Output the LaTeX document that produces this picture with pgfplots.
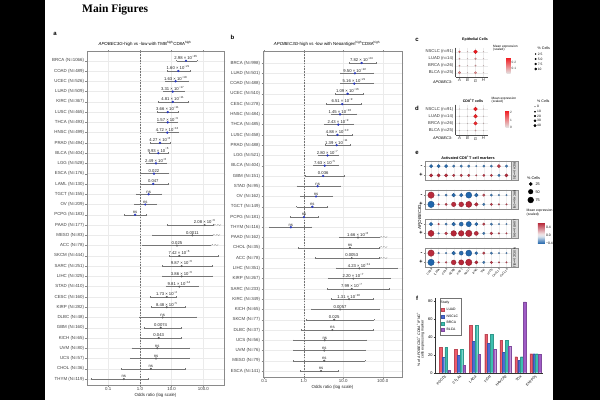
\documentclass[border=0pt]{standalone}
\usepackage{pgfplots}
\pgfplotsset{compat=1.18}
\usepackage{pgfplotstable}
\usepackage{fontspec}
\setmainfont{Liberation Sans}
\newfontfamily\headfont{Liberation Serif}
\newfontfamily\symfont{DejaVu Sans}
\newcommand{\fs}[1]{\fontsize{#1}{#1}\selectfont}
\newcommand{\tp}[2]{#1 × 10\textsuperscript{−#2}}
\pgfkeys{/pgf/number format/assume math mode=true}

\definecolor{ptblue}{HTML}{2B3BBF}
\definecolor{ptgray}{HTML}{5E5E5E}
\definecolor{gridc}{HTML}{EBEBEB}
\definecolor{framec}{HTML}{8A8A8A}
\definecolor{errc}{HTML}{767676}
\definecolor{cLUAD}{HTML}{EE5B6B}
\definecolor{cNSCLC}{HTML}{4A6CD4}
\definecolor{cBRCA}{HTML}{3DBFAF}
\definecolor{cBLCA}{HTML}{A05CC6}

% confidence intervals: one segment per row of a table (columns r, lo, hi)
\newcommand{\ciplot}[3]{%
  \pgfplotsforeachungrouped \cii in {#2,...,#3}{%
    \pgfplotstablegetelem{\cii}{r}\of{#1}\let\cirow\pgfplotsretval
    \pgfplotstablegetelem{\cii}{lo}\of{#1}\let\cilo\pgfplotsretval
    \pgfplotstablegetelem{\cii}{hi}\of{#1}\let\cihi\pgfplotsretval
    \edef\citemp{\noexpand\addplot[errc, line width=0.4pt, mark=|, mark size=0.7pt,
      mark options={solid, line width=0.4pt}, forget plot]
      coordinates {(\cilo,\cirow) (\cihi,\cirow)};}%
    \citemp
  }%
}
% size-legend keys: one black dot with its label per table row (columns x, y, s, lab)
\newcommand{\legplot}[4]{%
  \pgfplotsforeachungrouped \lgi in {0,...,#2}{%
    \pgfplotstablegetelem{\lgi}{x}\of{#1}\let\lgx\pgfplotsretval
    \pgfplotstablegetelem{\lgi}{y}\of{#1}\let\lgy\pgfplotsretval
    \pgfplotstablegetelem{\lgi}{s}\of{#1}\let\lgs\pgfplotsretval
    \pgfplotstablegetelem{\lgi}{lab}\of{#1}\let\lgl\pgfplotsretval
    \edef\lgtemp{\noexpand\addplot[only marks, mark=*, black, mark size=\lgs pt,
      nodes near coords={\lgl}, nodes near coords style={anchor=west,
      font=\noexpand\fs{#4}, inner sep=0pt, xshift=#3}]
      coordinates {(\lgx,\lgy)};}%
    \lgtemp
  }%
}

\tikzset{facetstrip/.style={fill=black!15, draw=black!45, line width=0.3pt, rotate=-90, anchor=south,
    minimum width=18.5pt, minimum height=6.5pt, inner sep=0pt, font=\fs{3}}}

\pgfplotsset{
  forestax/.style={
    scale only axis, y dir=reverse, clip=false,
    axis line style={framec, line width=0.45pt},
    tick align=outside, major tick length=1.5pt, minor tick length=0pt,
    tick style={framec, line width=0.35pt},
    xtick={0.1,1,10,100}, xticklabels={0.1,1.0,10.0,100.0},
    grid=major, major grid style={gridc, line width=0.4pt},
    tick label style={font=\fs{4.4}, text=black!75},
    xticklabel style={inner sep=1pt},
    yticklabel style={inner sep=1.2pt},
    xlabel={Odds ratio (log scale)},
    xlabel style={font=\fs{4.4}, text=black!85, inner sep=1pt},
  },
  orpts/.style={only marks, mark=*, mark size=0.95pt,
    nodes near coords, point meta=explicit symbolic,
    nodes near coords style={font=\fs{4.2}, anchor=south, inner sep=0.6pt, yshift=0.3pt, text=black!85}},
  cutmark/.style={draw=none, mark=none,
    nodes near coords={\symfont\fs{3.4}\textcolor{errc}{↗↗↙}},
    nodes near coords style={anchor=west, inner sep=0.2pt}},
  dotax/.style={
    scale only axis, width=32pt, xmin=0.5, xmax=4.5, ymin=0.4, ymax=4.6, y dir=reverse,
    axis lines*=left, axis line style={black!70, line width=0.35pt},
    xtick={1,2,3,4}, xticklabels={\textit{A},\textit{B},\textit{G},\textit{H}},
    ytick={1,2,3,4}, yticklabels={{NSCLC (n=91)},{LUAD (n=14)},{BRCA (n=26)},{BLCA (n=25)}},
    tick label style={font=\fs{4.2}, text=black!80, inner sep=1pt},
    tick style={black!70, line width=0.3pt}, tick align=outside, major tick length=1pt,
    grid=major, major grid style={black!8, line width=0.3pt},
    colormap={greyred}{rgb255=(228,222,222) rgb255=(242,18,24)},
    clip=false,
  },
  dotplot/.style={scatter, only marks, mark=*, point meta=\thisrow{c},
    visualization depends on={\thisrow{s}\as\ms},
    scatter/@pre marker code/.append style={/tikz/mark size=\ms}},
  efacet/.style={
    scale only axis, width=86pt, height=18.5pt,
    xmin=0.2, xmax=11.6, ymin=0.5, ymax=2.5, y dir=reverse,
    axis line style={black!45, line width=0.35pt},
    xtick={1,...,11}, xticklabels={}, ytick={1,2}, yticklabels={-,+},
    yticklabel style={font=\fs{5.5}\bfseries, inner sep=1.5pt},
    tick style={black!50, line width=0.3pt}, tick align=outside, major tick length=0.8pt,
    grid=major, major grid style={black!7, line width=0.3pt},
    colormap={rdbuE}{rgb255=(33,102,172) rgb255=(94,143,193) rgb255=(155,185,215)
      rgb255=(216,226,236) rgb255=(241,227,228) rgb255=(228,186,191) rgb255=(216,146,154)
      rgb255=(203,105,117) rgb255=(191,65,80) rgb255=(178,24,43)},
    point meta min=-0.42, point meta max=0.66,
    clip=false,
  },
}

% ---------------- forest plot data ----------------
\pgfplotstableread{
r or lo hi lab
1 28.3 14.4 63 {\tp{2.98}{45}}
2 16.2 7.5 37.9 {\tp{1.60}{21}}
3 13.4 6.2 33.5 {\tp{1.63}{18}}
4 10.8 5.4 24.5 {\tp{3.31}{17}}
5 10.8 3.8 32.1 {\tp{4.81}{11}}
6 7.5 3.4 16.2 {\tp{3.66}{11}}
7 7.5 3.6 15.5 {\tp{1.57}{9}}
8 7.3 3.5 16.2 {\tp{4.72}{13}}
9 4.3 2.07 9.3 {\tp{4.27}{8}}
10 3.8 1.97 7.8 {\tp{9.93}{6}}
11 3.2 1.63 6.6 {\tp{2.49}{6}}
12 2.77 1.13 7.8 0.022
13 2.63 1.0 7.8 0.047
14 1.88 0.75 4.8 ns
15 1.47 0.66 3.2 ns
16 0.70 0.31 1.63 ns
}\tabAblue
\pgfplotstableread{
r or lo hi lab
17 110 7.3 198 {\tp{2.08}{6}}
18 45 2.45 184 0.0011
19 14.7 1.22 163 0.025
20 17.4 8.4 297 {\tp{7.42}{6}}
21 20.7 5.1 184 {\tp{9.87}{6}}
22 20.7 5.1 184 {\tp{3.86}{6}}
23 17.4 6.6 69 {\tp{9.81}{14}}
24 7.0 2.07 14.4 {\tp{1.73}{4}}
25 7.0 2.34 27.7 {\tp{8.48}{5}}
26 5.2 0.95 58.6 ns
27 4.5 1.34 20.7 0.0074
28 3.9 1.0 19.3 0.043
29 3.5 0.55 36 ns
30 3.2 0.48 35 ns
31 2.2 0.26 27.7 ns
32 0.31 0.028 1.83 ns
}\tabAgray
\pgfplotstableread{
r hi
17 198
18 184
19 163
}\tabAclip

\pgfplotstableread{
r or lo hi lab
1 29.3 14.0 70.3 {\tp{7.82}{44}}
2 19.8 8.3 57.7 {\tp{9.50}{22}}
3 19.0 8.3 55.7 {\tp{5.16}{21}}
4 12.9 6.2 31.1 {\tp{1.09}{16}}
5 9.45 3.8 29.3 {\tp{6.51}{9}}
6 8.3 4.9 21.0 {\tp{1.45}{10}}
7 7.5 3.3 17.9 {\tp{2.43}{9}}
8 7.1 3.9 16.4 {\tp{4.88}{10}}
9 6.8 3.4 14.8 {\tp{1.39}{11}}
10 4.0 2.25 7.5 {\tp{2.80}{7}}
11 3.4 1.74 7.5 {\tp{7.63}{5}}
12 3.1 1.07 10.6 0.036
13 2.25 0.70 8.3 ns
14 2.04 0.83 5.3 ns
15 1.64 0.66 4.0 ns
16 1.01 0.45 2.25 ns
17 0.47 0.134 1.52 ns
}\tabBblue
\pgfplotstableread{
r or lo hi lab
18 23.6 7.9 80 {\tp{1.66}{8}}
19 14.8 0.73 80 ns
20 16.4 1.92 80 0.0053
21 25.5 6.5 226 {\tp{4.23}{11}}
22 17.9 4.2 153 {\tp{2.20}{7}}
23 16.4 4.0 144 {\tp{7.99}{7}}
24 14.0 4.9 55.7 {\tp{1.31}{10}}
25 8.3 1.52 81.8 0.0057
26 5.9 1.14 60 0.025
27 5.3 0.85 57.7 ns
28 3.4 0.54 39.2 ns
29 3.3 0.54 35.5 ns
30 3.3 0.54 35.5 ns
31 2.73 0.80 7.5 ns
}\tabBgray
\pgfplotstableread{
r hi
18 80
19 80
20 80
}\tabBclip

% ---------------- dot plots c, d ----------------
\pgfplotstableread{
x y s c
1 1 0.9 0.16
2 1 0.4 0.05
3 1 1.9 0.27
4 1 0.4 0.04
1 2 0.6 0.08
2 2 0.35 0.04
3 2 0.8 0.10
4 2 0.35 0.04
1 3 0.6 0.09
2 3 0.4 0.05
3 3 0.7 0.08
4 3 0.35 0.04
1 4 1.2 0.12
2 4 0.35 0.04
3 4 1.1 0.12
4 4 0.35 0.04
}\tabC
\pgfplotstableread{
x y s c
1 1 0.4 0.15
2 1 0.35 0.1
3 1 1.9 2.3
4 1 0.4 0.2
1 2 0.4 0.15
2 2 0.35 0.1
3 2 1.8 2.2
4 2 0.4 0.2
1 3 0.4 0.15
2 3 0.35 0.1
3 3 1.8 2.1
4 3 0.4 0.2
1 4 0.35 0.1
2 4 0.35 0.1
3 4 0.6 0.5
4 4 0.35 0.1
}\tabD

% ---------------- activated CD8 T cell markers ----------------
\pgfplotstableread{
x y s c
1 1 1.6 -0.40
2 1 1.6 -0.40
3 1 1.6 -0.40
4 1 1.2 -0.35
5 1 1.2 -0.35
6 1 1.2 -0.35
7 1 0.7 -0.30
8 1 1.1 -0.35
9 1 1.2 -0.35
10 1 1.6 0.55
11 1 1.2 -0.35
1 2 1.6 0.60
2 2 1.6 0.60
3 2 1.6 0.60
4 2 1.2 0.55
5 2 1.2 0.55
6 2 1.2 0.55
7 2 0.7 0.50
8 2 1.1 0.55
9 2 1.2 0.55
10 2 1.2 -0.35
11 2 1.6 0.60
}\eBLCA
\pgfplotstableread{
x y s c
1 1 3.2 0.60
2 1 0.8 -0.30
3 1 1.2 -0.35
4 1 1.8 -0.40
5 1 1.8 -0.40
6 1 3.0 -0.42
7 1 1.8 -0.40
8 1 1.2 0.50
9 1 1.2 -0.35
10 1 0.8 -0.30
11 1 0.8 -0.30
1 2 3.2 -0.42
2 2 0.8 0.50
3 2 1.2 0.55
4 2 2.2 0.60
5 2 2.4 0.60
6 2 3.0 0.62
7 2 1.8 0.60
8 2 1.2 -0.35
9 2 1.2 0.55
10 2 0.8 0.50
11 2 0.8 0.50
}\eBRCA
\pgfplotstableread{
x y s c
1 1 1.8 -0.40
2 1 0.8 0.50
3 1 1.2 -0.35
4 1 1.8 -0.40
5 1 2.0 -0.40
6 1 2.6 -0.42
7 1 1.6 -0.40
8 1 1.2 0.55
9 1 1.2 -0.35
10 1 0.7 -0.30
11 1 0.7 -0.30
1 2 3.0 0.62
2 2 0.8 -0.30
3 2 1.4 0.55
4 2 2.8 0.62
5 2 2.8 0.62
6 2 3.2 0.62
7 2 2.0 0.60
8 2 1.2 -0.35
9 2 1.4 0.55
10 2 0.8 0.50
11 2 0.7 0.50
}\eLUAD
\pgfplotstableread{
x y s c
1 1 3.2 0.60
2 1 0.8 -0.30
3 1 0.8 -0.30
4 1 1.8 -0.40
5 1 2.0 -0.40
6 1 3.0 -0.42
7 1 1.4 -0.40
8 1 1.2 0.55
9 1 1.2 -0.35
10 1 0.7 -0.30
11 1 0.7 -0.30
1 2 3.2 -0.42
2 2 0.9 0.50
3 2 0.9 0.50
4 2 2.4 0.60
5 2 2.6 0.62
6 2 3.2 0.62
7 2 1.6 0.60
8 2 1.2 -0.35
9 2 1.2 0.55
10 2 0.7 0.50
11 2 0.7 0.50
}\eNSCLC

% ---------------- exhaustion markers ----------------
\pgfplotstableread{
g LUAD NSCLC BRCA BLCA
1 28.1 17.0 28.1 3.0
2 26.3 19.2 25.9 8.5
3 52.9 34.8 52.9 20.4
4 42.9 32.6 42.9 26.3
5 36.3 22.6 36.3 29.6
6 17.8 14.1 17.8 78.8
7 21.1 21.1 21.1 20.4
}\tabF

% ---------------- size legends (page positions, y from the top) ----------------
\pgfplotstableread{
x y s lab
535.7 54 0.5 2.5
535.7 59 0.75 5.0
535.7 64 0.95 7.5
535.7 69 1.1 10
}\legC
\pgfplotstableread{
x y s lab
535 106.7 0.2 0
535 111.7 0.6 10
535 116 0.85 20
535 120.7 1.05 30
535 125.7 1.25 40
}\legD
\pgfplotstableread{
x y s lab
530.7 184 1.6 25
530.7 191.7 2.3 50
530.7 200 2.9 75
}\legE

\begin{document}
\begin{tikzpicture}[x=1pt, y=1pt]
\path[use as bounding box] (0,0) rectangle (600,400);
\fill[white] (0,0) rectangle (600,400);

% ---------- headings ----------
\node[anchor=base west, inner sep=0pt, font=\headfont\bfseries\fs{11.5}] at (82,387) {Main Figures};
\node[font=\bfseries\fs{6}, inner sep=0pt] at (55,366.5) {a};
\node[font=\bfseries\fs{6}, inner sep=0pt] at (232.5,362.3) {b};
\node[font=\bfseries\fs{6}, inner sep=0pt] at (417,360) {c};
\node[font=\bfseries\fs{6}, inner sep=0pt] at (417,292) {d};
\node[font=\bfseries\fs{6}, inner sep=0pt] at (417,247) {e};
\node[font=\bfseries\fs{6}, inner sep=0pt] at (417,102) {f};

% ---------- a ----------
\node[font=\fs{4.4}, inner sep=0pt] at (145,356.5)
  {\textit{APOBEC3G}-high vs -low with TMB\textsuperscript{high}CD8A\textsuperscript{high}};
\begin{axis}[forestax, xmode=log, at={(87pt,348.5pt)}, anchor=north west,
  width=137pt, height=333.5pt, xmin=0.0214, xmax=447, ymin=0.1, ymax=32.58,
  ytick={1,...,32},
  yticklabels={{BRCA (N=1066)},{COAD (N=489)},{UCEC (N=526)},{LUAD (N=509)},{KIRC (N=367)},
    {LUSC (N=465)},{THCA (N=493)},{HNSC (N=499)},{PRAD (N=494)},{BLCA (N=404)},{LGG (N=528)},
    {ESCA (N=176)},{LAML (N=130)},{TGCT (N=155)},{OV (N=209)},{PCPG (N=183)},{PAAD (N=177)},
    {MESO (N=83)},{ACC (N=78)},{SKCM (N=444)},{SARC (N=251)},{LIHC (N=325)},{STAD (N=410)},
    {CESC (N=160)},{KIRP (N=282)},{DLBC (N=48)},{GBM (N=160)},{KICH (N=65)},{UVM (N=80)},
    {UCS (N=57)},{CHOL (N=36)},{THYM (N=119)}}]
\addplot[black!55, dashed, dash pattern=on 1.6pt off 1.2pt, line width=0.4pt] coordinates {(1,0.1) (1,32.58)};
\ciplot{\tabAblue}{0}{15}
\ciplot{\tabAgray}{0}{15}
\addplot[orpts, ptblue] table[x=or, y=r, meta=lab] {\tabAblue};
\addplot[orpts, ptgray, mark size=0.8pt] table[x=or, y=r, meta=lab] {\tabAgray};
\addplot[cutmark] table[x=hi, y=r] {\tabAclip};
\end{axis}

% ---------- b ----------
\node[font=\fs{4.4}, inner sep=0pt] at (327,356.5)
  {\textit{APOBEC3G}-high vs -low with Neoantigen\textsuperscript{high}CD8A\textsuperscript{high}};
\begin{axis}[forestax, xmode=log, at={(263pt,348.5pt)}, anchor=north west,
  width=139pt, height=325.5pt, xmin=0.0925, xmax=307.6, ymin=-0.12, ymax=31.58,
  ytick={1,...,31},
  yticklabels={{BRCA (N=998)},{LUAD (N=501)},{COAD (N=488)},{UCEC (N=510)},{CESC (N=278)},
    {HNSC (N=484)},{THCA (N=485)},{LUSC (N=458)},{PRAD (N=488)},{LGG (N=521)},{BLCA (N=404)},
    {GBM (N=151)},{STAD (N=95)},{OV (N=162)},{TGCT (N=149)},{PCPG (N=181)},{THYM (N=116)},
    {PAAD (N=162)},{CHOL (N=35)},{ACC (N=78)},{LIHC (N=351)},{KIRP (N=267)},{SARC (N=233)},
    {KIRC (N=349)},{KICH (N=65)},{SKCM (N=77)},{DLBC (N=37)},{UCS (N=56)},{UVM (N=76)},
    {MESO (N=79)},{ESCA (N=141)}}]
\addplot[black!55, dashed, dash pattern=on 1.6pt off 1.2pt, line width=0.4pt] coordinates {(1,-0.12) (1,31.58)};
\ciplot{\tabBblue}{0}{16}
\ciplot{\tabBgray}{0}{13}
\addplot[orpts, ptblue] table[x=or, y=r, meta=lab] {\tabBblue};
\addplot[orpts, ptgray, mark size=0.8pt] table[x=or, y=r, meta=lab] {\tabBgray};
\addplot[cutmark] table[x=hi, y=r] {\tabBclip};
\end{axis}

% ---------- c ----------
\node[font=\bfseries\fs{3.6}, inner sep=0pt] at (475,360) {Epithelial Cells};
\begin{axis}[dotax, at={(455.5pt,352.5pt)}, anchor=north west, height=29.4pt,
  point meta min=0.02, point meta max=0.28,
  colorbar, colorbar style={at={(parent axis.north east)}, anchor=north west,
    xshift=10.5pt, yshift=-9.5pt, width=4pt, height=16pt, scale only axis,
    ytick={0.1,0.2}, yticklabel style={font=\fs{3.2}, inner sep=1pt},
    axis line style={draw=none}, major tick length=0pt}]
\addplot[dotplot] table[x=x, y=y] {\tabC};
\end{axis}
\node[anchor=east, font=\itshape\fs{3.8}, inner sep=0pt] at (452.5,318.3) {APOBEC3-};
\node[anchor=north west, align=left, font=\fs{3.2}, inner sep=0pt] at (493,355.5) {Mean expression\\(scaled)};
\node[anchor=west, font=\fs{3.6}, inner sep=0pt] at (537.5,351.7) {\% Cells};

% ---------- d ----------
\node[font=\bfseries\fs{3.6}, inner sep=0pt] at (473,299) {CD8\textsuperscript{+}T cells};
\begin{axis}[dotax, at={(455.5pt,295.3pt)}, anchor=north west, height=30.2pt,
  point meta min=0, point meta max=2.4,
  colorbar, colorbar style={at={(parent axis.north east)}, anchor=north west,
    xshift=9.5pt, yshift=-5.3pt, width=3.5pt, height=17pt, scale only axis,
    ytick={0,1,2}, yticklabel style={font=\fs{3.2}, inner sep=1pt},
    axis line style={draw=none}, major tick length=0pt}]
\addplot[dotplot] table[x=x, y=y] {\tabD};
\end{axis}
\node[anchor=east, font=\itshape\fs{3.8}, inner sep=0pt] at (452.5,262) {APOBEC3-};
\node[anchor=north west, align=left, font=\fs{3.2}, inner sep=0pt] at (491.5,303.5) {Mean expression\\(scaled)};
\node[anchor=west, font=\fs{3.6}, inner sep=0pt] at (537,299) {\% Cells};

% ---------- e ----------
\node[font=\bfseries\fs{3.8}, inner sep=0pt] at (468,242) {Activated CD8\textsuperscript{+}T cell markers};
\node[rotate=90, font=\itshape\fs{4.4}, inner sep=0pt] at (419.5,183) {APOBEC3G};
\begin{axis}[efacet, at={(425pt,238.5pt)}, anchor=north west,
  colorbar, colorbar style={at={(parent axis.north east)}, anchor=north west,
    xshift=18.3pt, yshift=-60.5pt, width=7pt, height=21.6pt, scale only axis,
    ytick={-0.4,0,0.4}, yticklabels={−0.4,0.0,0.4}, yticklabel style={font=\fs{3.4}, inner sep=1pt},
    axis line style={draw=none}, major tick length=0pt}]
\addplot[dotplot] table[x=x, y=y] {\eBLCA};
\node[facetstrip] at (rel axis cs:1,0.5) {BLCA (n=25)};
\end{axis}
\begin{axis}[efacet, at={(425pt,209.5pt)}, anchor=north west]
\addplot[dotplot] table[x=x, y=y] {\eBRCA};
\node[facetstrip] at (rel axis cs:1,0.5) {BRCA (n=26)};
\end{axis}
\begin{axis}[efacet, at={(425pt,180.5pt)}, anchor=north west]
\addplot[dotplot] table[x=x, y=y] {\eLUAD};
\node[facetstrip] at (rel axis cs:1,0.5) {LUAD (n=14)};
\end{axis}
\begin{axis}[efacet, at={(425pt,151.5pt)}, anchor=north west,
  xticklabels={CD69,IL2RA,CD38,GZMB,PRF1,NKG7,IFNG,TNF,ICOS,CXCL13,CXCL10},
  xticklabel style={rotate=50, anchor=north east, font=\fs{2.8}, inner sep=0.3pt}]
\addplot[dotplot] table[x=x, y=y] {\eNSCLC};
\node[facetstrip] at (rel axis cs:1,0.5) {NSCLC (n=91)};
\end{axis}
\node[anchor=west, font=\fs{3.8}, inner sep=0pt] at (527,221.7) {\% Cells};
\node[anchor=north west, align=left, font=\fs{3.4}, inner sep=0pt] at (526.5,191) {Mean expression\\(scaled)};

% ---------- f ----------
\node[rotate=90, align=center, font=\fs{3.6}, inner sep=0pt] at (420.5,60.5)
  {\% of \textit{APOBEC3G}\textsuperscript{+} \textit{CD8A}\textsuperscript{+} \textit{IFNG}\textsuperscript{+}\\cells expressing marker};
\begin{axis}[at={(435pt,27.3pt)}, anchor=south west, scale only axis, width=108pt, height=74.4pt,
  ybar=0.25pt, bar width=2.55pt, ymin=0, ymax=82.7, xmin=0.35, xmax=7.5,
  axis lines*=left, axis line style={black!80, line width=0.4pt},
  xtick={1,...,7}, xticklabels={PDCD1,CTLA4,LAG3,TIGIT,HAVCR2,TOX,ENTPD1},
  xticklabel style={rotate=45, anchor=north east, font=\fs{3.5}, inner sep=0.5pt},
  ytick={0,20,40,60,80}, yticklabel style={font=\fs{3.9}, inner sep=1pt},
  tick style={black!80, line width=0.35pt}, tick align=outside, major tick length=1.3pt,
  legend style={at={(rel axis cs:0.045,1)}, anchor=north west, font=\fs{3.4},
    draw=black!55, line width=0.3pt, inner sep=0.8pt, row sep=-1.2pt,
    cells={anchor=west}},
  legend image code/.code={\draw[#1, line width=0.2pt] (0pt,-1.4pt) rectangle (3.6pt,1.4pt);}]
\addlegendimage{empty legend}\addlegendentry{\hspace{-6pt}Study}
\addplot[fill=cLUAD, draw=cLUAD!80!black, line width=0.2pt] table[x=g, y=LUAD] {\tabF};
\addlegendentry{LUAD}
\addplot[fill=cNSCLC, draw=cNSCLC!80!black, line width=0.2pt] table[x=g, y=NSCLC] {\tabF};
\addlegendentry{NSCLC}
\addplot[fill=cBRCA, draw=cBRCA!80!black, line width=0.2pt] table[x=g, y=BRCA] {\tabF};
\addlegendentry{BRCA}
\addplot[fill=cBLCA, draw=cBLCA!80!black, line width=0.2pt] table[x=g, y=BLCA] {\tabF};
\addlegendentry{BLCA}
\end{axis}

% ---------- size legends, drawn on a page-sized frame ----------
\begin{axis}[at={(0pt,0pt)}, anchor=south west, scale only axis, width=600pt, height=400pt,
  xmin=0, xmax=600, ymin=0, ymax=400, y dir=reverse, hide axis, clip=false]
\legplot{\legC}{3}{2pt}{3.3}
\legplot{\legD}{4}{2pt}{3.3}
\legplot{\legE}{2}{4.6pt}{3.8}
\end{axis}

% ---------- page margins ----------
\fill[black] (0,0) rectangle (45,400);
\fill[black] (553,0) rectangle (600,400);
\end{tikzpicture}
\end{document}
